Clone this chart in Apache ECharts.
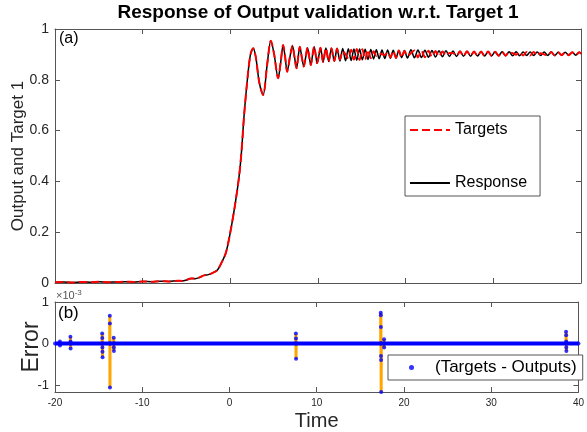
<!DOCTYPE html>
<html><head><meta charset="utf-8">
<script src="https://cdn.jsdelivr.net/npm/echarts@6/dist/echarts.min.js"></script>
<style>html,body{margin:0;padding:0;background:#fff}#c{width:587px;height:432px}</style>
</head><body><div id="c"></div>
<script>
// ---------- DATA ----------
const xTickLabels = [-20, -10, 0, 10, 20, 30, 40];
const yTopTicks = [0, 0.2, 0.4, 0.6, 0.8, 1];
const yErrTicks = [-1, 0, 1];

const time = [
 -20,-19,-18,-17,-16,-15,-14,-13,-12,-11,-10,-9,-8,-7,-6,-5.5,-5,-4.5,-4,-3.5,-3,-2.5,-2,-1.5,-1,-0.5,
 0,0.5,1,1.28,1.57,2,2.3,2.6,2.9,3.3,3.74,4.2,4.62,5.0,5.45,5.75,6.02,6.25,6.48,6.8,7.09,7.32,7.55,7.74,7.92,
 8.15,8.38,8.6,8.8,9.0,9.18,9.37,9.56,9.73,9.9,10.1,10.28,10.43,10.58,
 10.9,11.22,11.54,11.86,12.18,12.5,12.82,13.14,13.46,13.78,14.1,14.42,14.74,15.06,15.38,15.7,16.02,16.34,
 16.66,16.98,17.3,17.62,17.94,18.26,18.58,18.9,19.22,19.54,19.86,
 20.2,20.6,21.0,21.4,21.8,22.2,22.6,23.0,23.4,23.8,24.2,24.6,25.0,25.4,25.8,26.2,26.6,27.0,27.4,27.8,
 28.2,28.6,29.0,29.4,29.8,30.2,30.6,31.0,31.4,31.8,32.2,32.6,33.0,33.4,33.8,34.2,34.6,35.0,35.4,35.8,
 36.2,36.6,37.0,37.4,37.8,38.2,38.6,39.0,39.4,39.8,40
];
const response = [
 .003,.004,.002,.004,.003,.005,.003,.004,.005,.004,.006,.005,.007,.006,.009,.008,.012,.018,.017,.022,.03,.033,.04,.05,.08,.12,
 .2,.3,.42,.52,.66,.82,.9,.924,.89,.79,.74,.86,.954,.9,.806,.87,.937,.89,.832,.89,.934,.89,.845,.89,.93,
 .89,.852,.89,.926,.89,.858,.895,.93,.9,.865,.895,.926,.9,.87,
 .925,.872,.924,.873,.924,.874,.923,.875,.922,.876,.921,.877,.921,.879,.92,.88,.919,.882,
 .918,.883,.917,.884,.917,.885,.916,.886,.915,.887,.915,
 .886,.918,.887,.917,.888,.916,.889,.915,.890,.914,.891,.914,.892,.913,.892,.912,.893,.912,.893,.911,
 .894,.911,.894,.911,.894,.910,.895,.910,.895,.910,.895,.910,.895,.909,.896,.909,.896,.909,.896,.909,
 .896,.909,.896,.908,.897,.908,.897,.908,.897,.908,.902
];
const targets = [
 .003,.004,.002,.004,.003,.005,.003,.004,.005,.004,.006,.005,.007,.006,.009,.008,.012,.018,.017,.022,.03,.033,.04,.05,.08,.12,
 .2,.3,.42,.52,.66,.82,.9,.924,.89,.79,.74,.86,.954,.9,.806,.87,.937,.89,.832,.89,.934,.89,.845,.89,.93,
 .89,.852,.89,.926,.89,.858,.895,.93,.9,.865,.895,.926,.9,.87,
 .925,.872,.924,.874,.922,.88,.912,.9,.884,.918,.879,.921,.878,.92,.88,.918,.885,.912,
 .895,.905,.9,.898,.908,.888,.914,.886,.915,.887,.913,
 .894,.905,.915,.888,.915,.889,.914,.890,.913,.892,.911,.895,.906,.905,.894,.912,.893,.912,.894,.911,
 .894,.911,.894,.911,.895,.910,.895,.910,.895,.909,.905,.899,.909,.896,.909,.896,.909,.896,.905,.900,
 .896,.909,.896,.908,.897,.908,.897,.908,.897,.908,.902
];

// Error (Targets - Outputs), in units of 1e-3
const errTime = [
 -20,-19.45,-19.44,-19.43,-19.42,
 -18.24,-18.23,-18.22,-18.21,-18.2,
 -14.6,-14.59,-14.58,-14.57,-14.56,-14.55,-14.54,
 -13.73,-13.72,-13.71,-13.7,-13.69,
 -13.28,-13.27,-13.26,-13.25,-13.24,
 7.6,7.61,7.62,7.63,7.64,
 17.33,17.34,17.35,17.36,17.37,17.38,17.39,17.4,
 17.71,17.72,17.73,17.74,
 38.57,38.58,38.59,38.6,38.61,38.62,38.63,40
];
const errValue = [
 0,0,0.05,-0.05,0,
 0,0.16,0.05,-0.12,0,
 0,0.24,0.13,-0.1,-0.2,-0.33,0,
 0,0.67,0.48,-1.06,0,
 0,0.14,-0.1,-0.18,0,
 0,0.24,0.12,-0.37,0,
 0,0.74,0.68,0.4,-0.3,-0.4,-1.17,0,
 0,0.1,-0.1,0,
 0,0.28,0.2,0.05,-0.1,-0.18,0,0
];
const bandTime = [-20, 40];
const bandValue = [0, 0];

// ---------- CHART ----------
const FF = '"Liberation Sans", Arial, Helvetica, sans-serif';
const axisCol = '#555';
const labCol = '#262626';
const chart = echarts.init(document.getElementById('c'), null, {renderer: 'canvas'});

function xAx(grid, pos, showLabel) {
  return {
    type: 'value', gridIndex: grid, position: pos, min: xTickLabels[0], max: xTickLabels[xTickLabels.length - 1], interval: 10,
    axisLine: {show: true, onZero: false, lineStyle: {color: axisCol, width: 1}},
    axisTick: {show: true, inside: true, length: 5, lineStyle: {color: axisCol}},
    axisLabel: {show: showLabel, fontSize: 10, color: labCol, fontFamily: FF, margin: 6},
    splitLine: {show: false}
  };
}
function yAx(grid, pos, min, max, extra) {
  return Object.assign({
    type: 'value', gridIndex: grid, position: pos, min: min, max: max,
    nameMoveOverlap: false,
    axisLine: {show: true, onZero: false, lineStyle: {color: axisCol, width: 1}},
    axisTick: {show: true, inside: true, length: 5, lineStyle: {color: axisCol}},
    axisLabel: {show: false},
    splitLine: {show: false}
  }, extra || {});
}

const option = {
  animation: false,
  backgroundColor: '#fff',
  title: {
    text: 'Response of Output validation w.r.t. Target 1',
    left: 318, top: 3, textAlign: 'center', padding: 0,
    textStyle: {fontSize: 19, fontWeight: 'bold', color: '#000', fontFamily: FF}
  },
  grid: [
    {left: 55, top: 29, width: 526, height: 254},
    {left: 55, top: 302, width: 526, height: 90}
  ],
  xAxis: [
    xAx(0, 'bottom', false),
    xAx(0, 'top', false),
    Object.assign(xAx(1, 'bottom', true), {
      name: 'Time', nameLocation: 'middle', nameGap: 19, nameMoveOverlap: false,
      nameTextStyle: {fontSize: 20, color: labCol, fontFamily: FF}
    }),
    xAx(1, 'top', false)
  ],
  yAxis: [
    yAx(0, 'left', yTopTicks[0], yTopTicks[yTopTicks.length - 1], {
      interval: 0.2,
      name: 'Output and Target 1', nameLocation: 'middle', nameGap: 28,
      nameTextStyle: {fontSize: 17, color: labCol, fontFamily: FF},
      axisLabel: {show: true, fontSize: 14, color: labCol, fontFamily: FF, margin: 6}
    }),
    yAx(0, 'right', yTopTicks[0], yTopTicks[yTopTicks.length - 1], {interval: 0.2}),
    yAx(1, 'left', -1.17, 1, {
      name: 'Error', nameLocation: 'middle', nameGap: 12,
      nameTextStyle: {fontSize: 23, color: labCol, fontFamily: FF},
      axisTick: {show: true, inside: true, length: 5, customValues: yErrTicks, lineStyle: {color: axisCol}},
      axisLabel: {show: true, fontSize: 13, color: labCol, fontFamily: FF, margin: 6, customValues: yErrTicks}
    }),
    yAx(1, 'right', -1.17, 1, {
      axisTick: {show: true, inside: true, length: 5, customValues: yErrTicks, lineStyle: {color: axisCol}},
      axisLabel: {show: false, customValues: yErrTicks}
    })
  ],
  legend: [
    {
      data: ['Targets', 'Response'], orient: 'vertical', left: 405, top: 116,
      itemWidth: 40, itemHeight: 14, itemGap: 37, padding: [6, 13, 5, 4],
      itemStyle: {opacity: 0},
      borderColor: '#555', borderWidth: 1, backgroundColor: '#fff', borderRadius: 0,
      textStyle: {fontSize: 16, color: '#000', fontFamily: FF}
    },
    {
      data: [{name: '(Targets - Outputs)', icon: 'circle'}], left: 388, top: 355,
      itemWidth: 5, itemHeight: 5, padding: [4, 6, 4, 21],
      borderColor: '#555', borderWidth: 1, backgroundColor: '#fff', borderRadius: 0,
      textStyle: {fontSize: 17, color: '#000', fontFamily: FF, padding: [0, 0, 0, 16]}
    }
  ],
  graphic: [
    {type: 'text', left: 59, top: 31, style: {text: '(a)', fontSize: 16, fill: '#000', fontFamily: FF}},
    {type: 'text', left: 58, top: 305, style: {text: '(b)', fontSize: 17, fill: '#000', fontFamily: FF}},
    {type: 'text', left: 56, top: 289, style: {
      text: '{a|×10}{b|-3}', fontFamily: FF,
      rich: {a: {fontSize: 11, fill: '#555', fontFamily: FF}, b: {fontSize: 8, fill: '#555', fontFamily: FF, verticalAlign: 'top', padding: [0, 0, 6, 0]}}
    }}
  ],
  series: [
    {
      name: 'Response', type: 'line', xAxisIndex: 0, yAxisIndex: 0, showSymbol: false, symbol: 'none',
      data: time.map((t, i) => [t, response[i]]),
      lineStyle: {color: '#000', width: 1.5}, itemStyle: {color: '#000'}, z: 2, smooth: 0.3
    },
    {
      name: 'Targets', type: 'line', xAxisIndex: 0, yAxisIndex: 0, showSymbol: false, symbol: 'none',
      data: time.map((t, i) => [t, targets[i]]),
      lineStyle: {color: '#ff0000', width: 2, type: [8, 4]}, itemStyle: {color: '#ff0000'}, z: 3, smooth: 0.3
    },
    {
      name: 'errLine', type: 'line', xAxisIndex: 2, yAxisIndex: 2, showSymbol: false, symbol: 'none',
      data: errTime.map((t, i) => [t, errValue[i]]),
      lineStyle: {color: '#ffa500', width: 3}, z: 2
    },
    {
      name: 'zeroBand', type: 'line', xAxisIndex: 2, yAxisIndex: 2, showSymbol: false, symbol: 'none',
      data: bandTime.map((t, i) => [t, bandValue[i]]),
      lineStyle: {color: '#0000ff', width: 4}, z: 3
    },
    {
      name: '(Targets - Outputs)', type: 'scatter', xAxisIndex: 2, yAxisIndex: 2,
      data: errTime.map((t, i) => [t, errValue[i]]),
      symbol: 'circle', symbolSize: 4, itemStyle: {color: '#0000ff'}, z: 4
    }
  ]
};
chart.setOption(option);
</script></body></html>
